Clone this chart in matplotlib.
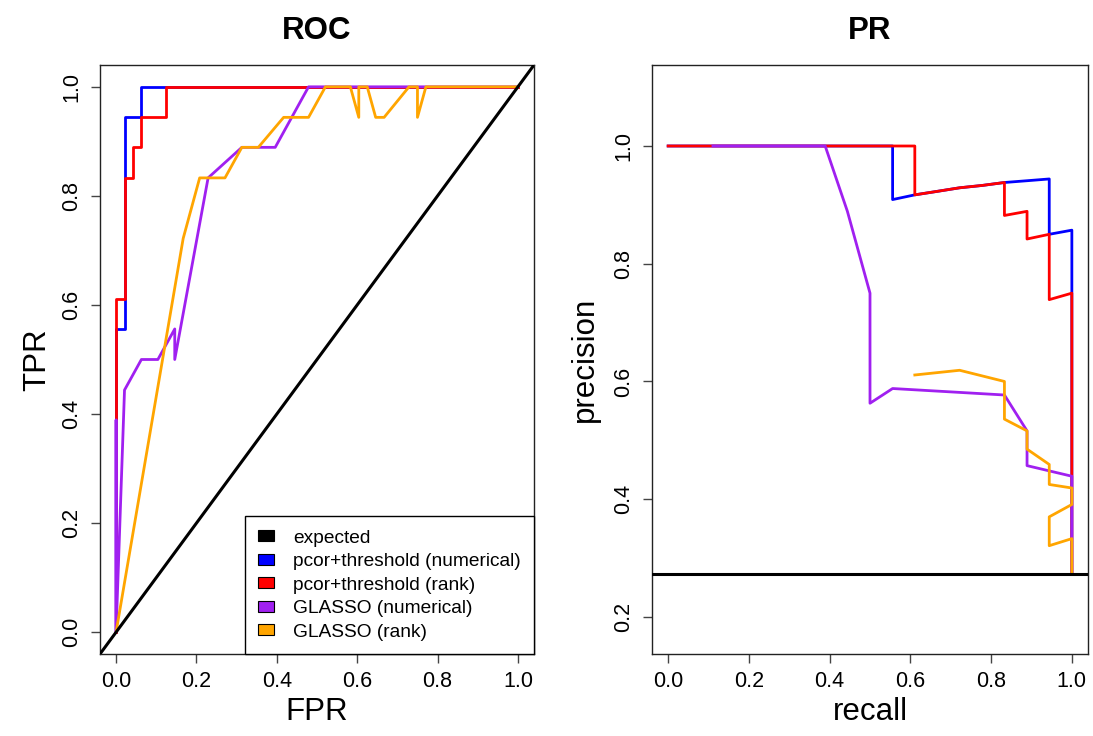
import matplotlib
matplotlib.use('Agg')
import matplotlib.pyplot as plt
from matplotlib.patches import Patch

plt.rcParams['font.family'] = ['Liberation Sans', 'DejaVu Sans']

# ===== Data =====
methods = ['expected', 'pcor+threshold (numerical)', 'pcor+threshold (rank)',
           'GLASSO (numerical)', 'GLASSO (rank)']
colors = ['#000000', '#0000FF', '#FF0000', '#A020F0', '#FFA500']

# ROC curves
roc_fpr_pcor_num = [0, 0, 0.021, 0.021, 0.063, 0.063, 1.0]
roc_tpr_pcor_num = [0, 0.556, 0.556, 0.944, 0.944, 1.0, 1.0]

roc_fpr_pcor_rank = [0, 0, 0.021, 0.021, 0.042, 0.042, 0.063, 0.063, 0.125, 0.125, 1.0]
roc_tpr_pcor_rank = [0, 0.611, 0.611, 0.833, 0.833, 0.889, 0.889, 0.944, 0.944, 1.0, 1.0]

roc_fpr_glasso_num = [0, 0, 0, 0.021, 0.063, 0.104, 0.146, 0.146, 0.229, 0.313, 0.396, 0.479, 1.0]
roc_tpr_glasso_num = [0, 0.389, 0, 0.444, 0.5, 0.5, 0.556, 0.5, 0.833, 0.889, 0.889, 1.0, 1.0]

roc_fpr_glasso_rank = [0, 0.167, 0.208, 0.271, 0.313, 0.354, 0.417, 0.479, 0.521, 0.583,
                       0.604, 0.604, 0.625, 0.646, 0.667, 0.729, 0.75, 0.75, 0.771, 1.0]
roc_tpr_glasso_rank = [0, 0.722, 0.833, 0.833, 0.889, 0.889, 0.944, 0.944, 1.0, 1.0,
                       0.944, 1.0, 1.0, 0.944, 0.944, 1.0, 1.0, 0.944, 1.0, 1.0]

# PR curves
pr_rec_pcor_num = [0, 0.556, 0.556, 0.611, 0.667, 0.722, 0.778, 0.833, 0.889, 0.944, 0.944, 1.0, 1.0]
pr_prec_pcor_num = [1.0, 1.0, 0.909, 0.917, 0.923, 0.929, 0.933, 0.938, 0.941, 0.944, 0.85, 0.857, 0.273]

pr_rec_pcor_rank = [0, 0.611, 0.611, 0.667, 0.722, 0.778, 0.833, 0.833, 0.889, 0.889, 0.944, 0.944, 1.0, 1.0]
pr_prec_pcor_rank = [1.0, 1.0, 0.917, 0.923, 0.929, 0.933, 0.938, 0.882, 0.889, 0.842, 0.85, 0.739, 0.75, 0.273]

pr_rec_glasso_num = [0.111, 0.389, 0.444, 0.5, 0.5, 0.556, 0.833, 0.889, 0.889, 1.0, 1.0]
pr_prec_glasso_num = [1.0, 1.0, 0.889, 0.75, 0.563, 0.588, 0.577, 0.516, 0.457, 0.439, 0.273]

pr_rec_glasso_rank = [0.611, 0.722, 0.833, 0.833, 0.889, 0.889, 0.944, 0.944, 1.0, 1.0,
                      0.944, 0.944, 1.0, 1.0]
pr_prec_glasso_rank = [0.611, 0.619, 0.6, 0.536, 0.516, 0.485, 0.459, 0.425, 0.419, 0.391,
                       0.370, 0.321, 0.333, 0.273]

pr_baseline = 0.273
ticks_01 = [0.0, 0.2, 0.4, 0.6, 0.8, 1.0]
ticks_pr_y = [0.2, 0.4, 0.6, 0.8, 1.0]

# ===== Figure =====
W, H = 1093, 736
fig = plt.figure(figsize=(W / 100, H / 100), dpi=100)
axROC = fig.add_axes([100 / W, 1 - 654 / H, 434 / W, 589 / H])
axPR = fig.add_axes([652 / W, 1 - 654 / H, 436 / W, 589 / H])

lw = 2.0
tick_fs = 15.5
lab_fs = 22.5


def style_axes(ax, title, xlabel, ylabel, yticks, ylabpad):
    ax.set_xticks(ticks_01)
    ax.set_yticks(yticks)
    ax.set_xticklabels([f'{t:.1f}' for t in ticks_01])
    ax.set_yticklabels([f'{t:.1f}' for t in yticks], rotation=90, va='center')
    ax.tick_params(axis='both', direction='out', length=6.5, width=1.0,
                   color='#444444', labelsize=tick_fs)
    ax.tick_params(axis='x', pad=5.5)
    ax.tick_params(axis='y', pad=6.5)
    for sp in ax.spines.values():
        sp.set_linewidth(1.0)
        sp.set_color('#222222')
    ax.set_title(title, fontsize=lab_fs, fontweight='bold', pad=19)
    ax.set_xlabel(xlabel, fontsize=lab_fs, labelpad=4)
    ax.set_ylabel(ylabel, fontsize=lab_fs, labelpad=ylabpad)


# ----- ROC panel -----
axROC.plot(roc_fpr_pcor_num, roc_tpr_pcor_num, color=colors[1], lw=lw)
axROC.plot(roc_fpr_pcor_rank, roc_tpr_pcor_rank, color=colors[2], lw=lw)
axROC.plot(roc_fpr_glasso_num, roc_tpr_glasso_num, color=colors[3], lw=lw)
axROC.plot(roc_fpr_glasso_rank, roc_tpr_glasso_rank, color=colors[4], lw=lw)
axROC.axline((0, 0), slope=1, color=colors[0], lw=2.2, zorder=5)
axROC.set_xlim(-0.04, 1.04)
axROC.set_ylim(-0.04, 1.04)
style_axes(axROC, 'ROC', 'FPR', 'TPR', ticks_01, 6)

handles = [Patch(facecolor=c, edgecolor='black', linewidth=0.8) for c in colors]
leg = axROC.legend(handles, methods, loc='lower right', fontsize=13.8,
                   frameon=True, fancybox=False, borderaxespad=0,
                   handlelength=0.8, handleheight=0.5, handletextpad=1.0,
                   labelspacing=0.34, borderpad=0.7)
leg.get_frame().set_edgecolor('black')
leg.get_frame().set_linewidth(1.0)
leg.get_frame().set_alpha(1.0)
leg.set_zorder(10)

# ----- PR panel -----
axPR.plot(pr_rec_pcor_num, pr_prec_pcor_num, color=colors[1], lw=lw)
axPR.plot(pr_rec_pcor_rank, pr_prec_pcor_rank, color=colors[2], lw=lw)
axPR.plot(pr_rec_glasso_num, pr_prec_glasso_num, color=colors[3], lw=lw)
axPR.plot(pr_rec_glasso_rank, pr_prec_glasso_rank, color=colors[4], lw=lw)
axPR.axhline(pr_baseline, color=colors[0], lw=2.2, zorder=5)
axPR.set_xlim(-0.04, 1.04)
axPR.set_ylim(0.137, 1.1376)
style_axes(axPR, 'PR', 'recall', 'precision', ticks_pr_y, 9)

fig.savefig('out.png', dpi=100)
plt.close(fig)
